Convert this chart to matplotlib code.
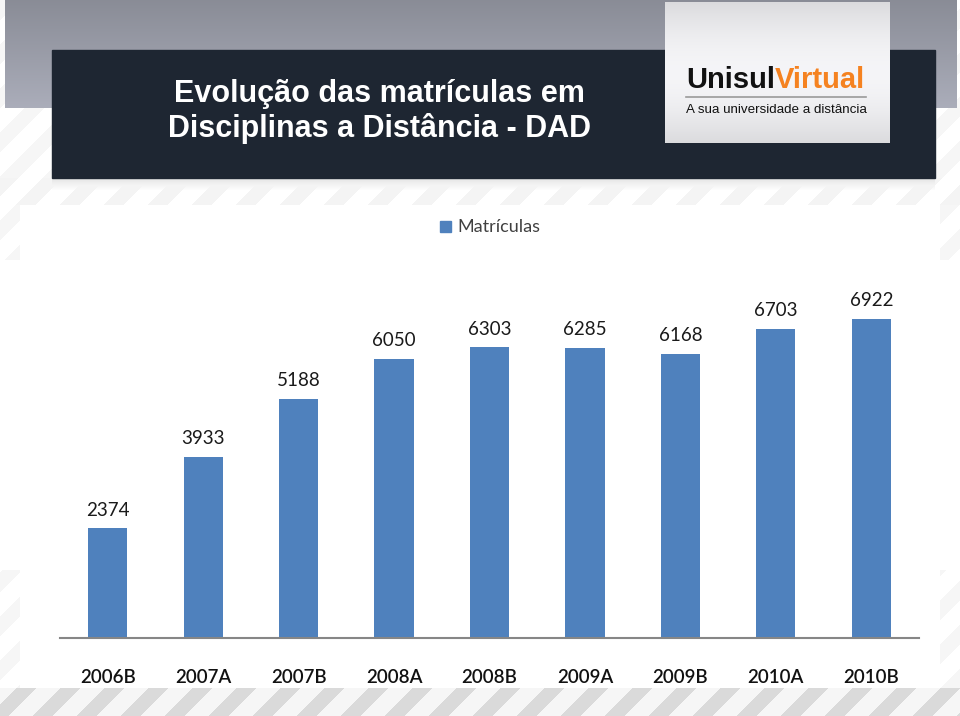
import numpy as np
import matplotlib
matplotlib.use("Agg")
import matplotlib.pyplot as plt
from matplotlib.patches import Rectangle

# data
periodos = ["2006B", "2007A", "2007B", "2008A", "2008B", "2009A", "2009B", "2010A", "2010B"]
matriculas = [2374, 3933, 5188, 6050, 6303, 6285, 6168, 6703, 6922]
serie_nome = "Matrículas"
titulo_l1 = "Evolução das matrículas em"
titulo_l2 = "Disciplinas a Distância - DAD"

W, H = 960, 716
azul = "#4f81bd"

fig = plt.figure(figsize=(W / 100, H / 100), dpi=100)

# ---- background (stripes + header band) ----
yy, xx = np.mgrid[0:H, 0:W]
stripe = ((xx + yy) % 44) < 20
base = np.ones((H, W))
dark = np.full((H, W), 0.035)
base[yy >= 688] = 0.965
dark[yy >= 688] = 0.11
dark[(yy >= 178) & (yy < 205)] = 0.04
chart_area = (xx >= 20) & (xx < 940) & (yy >= 205) & (yy < 688)
dark[chart_area] = 0.0
dark[(yy >= 260) & (yy < 570)] = 0.0
gray = base - stripe * dark
img = np.repeat(gray[..., None], 3, axis=2)

# gray gradient band on top
top = np.array([0.54, 0.55, 0.59])
bot = np.array([0.67, 0.68, 0.73])
t = np.clip(yy[:108, 5:957] / 108.0, 0, 1)[..., None]
img[:108, 5:957] = top * (1 - t) + bot * t

# shadow under the dark box
for k in range(12):
    a = 0.10 * (1 - k / 12)
    img[178 + k, 52:935] = np.minimum(img[178 + k, 52:935], 1 - a)

bg = fig.add_axes([0, 0, 1, 1])
bg.imshow(img, extent=(0, W, H, 0), interpolation="nearest")
bg.set_xlim(0, W)
bg.set_ylim(H, 0)
bg.axis("off")

# dark title box
bg.add_patch(Rectangle((52, 50), 883, 128, color="#1e2632", zorder=2))
bg.text(379, 94, titulo_l1, color="white", fontsize=22, fontweight="bold",
        family="Liberation Sans", ha="center", va="center", zorder=5)
bg.text(379, 129, titulo_l2, color="white", fontsize=22, fontweight="bold",
        family="Liberation Sans", ha="center", va="center", zorder=5)

# logo box
grad = np.linspace(0, 1, 141)
logo = np.array([0.86, 0.86, 0.87]) + 0.10 * np.sin(grad * np.pi)[:, None]
logo = np.repeat(logo[:, None, :], 225, axis=1)
bg.imshow(logo, extent=(665, 890, 143, 2), zorder=3)
bg.set_xlim(0, W)
bg.set_ylim(H, 0)
tx = bg.text(686, 80, "Unisul", color="#111111", fontsize=21, fontweight="bold",
             family="Liberation Sans", ha="left", va="center", zorder=5)
fig.canvas.draw()
bb = tx.get_window_extent().transformed(bg.transData.inverted())
bg.text(bb.x1, 80, "Virtual", color="#f58220", fontsize=21, fontweight="bold",
        family="Liberation Sans", ha="left", va="center", zorder=5)
bg.plot([686, 866], [97, 97], color="#9a9a9a", lw=1.2, zorder=5)
bg.text(686, 110, "A sua universidade a distância", color="#111111", fontsize=9.6,
        family="Liberation Sans", ha="left", va="center", zorder=5)

# legend
bg.add_patch(Rectangle((440, 221), 11, 11, color=azul, zorder=5))
bg.text(457, 227, serie_nome, color="#404040", fontsize=13, family="Lato",
        ha="left", va="center", zorder=5)

# ---- chart ----
ax = fig.add_axes([60 / W, (H - 638) / H, 859 / W, 369 / H])
ax.patch.set_alpha(0)
x = np.arange(len(periodos))
bars = ax.bar(x, matriculas, width=0.41, color=azul)
for b, v in zip(bars, matriculas):
    ax.annotate(str(v), (b.get_x() + b.get_width() / 2, v), xytext=(0, 7),
                textcoords="offset points", ha="center", va="bottom",
                fontsize=13.5, family="Lato", color="#1a1a1a")
ax.set_xlim(-0.5, len(periodos) - 0.5)
ax.set_ylim(0, 8000)
ax.set_xticks(x)
ax.set_xticklabels(periodos, fontsize=13.5, family="Lato", color="#111111",
                   fontweight="semibold")
ax.tick_params(axis="x", length=0, pad=22)
ax.set_yticks([])
for s in ["top", "right", "left"]:
    ax.spines[s].set_visible(False)
ax.spines["bottom"].set_color("#868686")
ax.spines["bottom"].set_linewidth(1.5)

fig.savefig("out.png", dpi=100)
